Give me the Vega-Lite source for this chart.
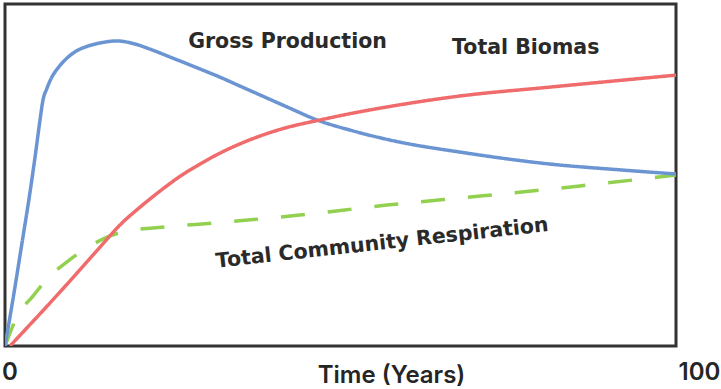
{
  "$schema": "https://vega.github.io/schema/vega-lite/v6.json",
  "width": 671,
  "height": 342,
  "autosize": "none",
  "padding": {"left": 5, "top": 4, "right": 45, "bottom": 43},
  "background": "white",
  "config": {
    "view": {"stroke": "#333333", "strokeWidth": 3},
    "font": "Inter"
  },
  "datasets": {
    "curves": [
      {"series": "Respiration", "t": 0, "v": 0},
      {"series": "Respiration", "t": 1.94, "v": 9.1},
      {"series": "Respiration", "t": 4.17, "v": 14.6},
      {"series": "Respiration", "t": 6.41, "v": 19.9},
      {"series": "Respiration", "t": 9.24, "v": 24.6},
      {"series": "Respiration", "t": 12.22, "v": 28.7},
      {"series": "Respiration", "t": 15.65, "v": 32.2},
      {"series": "Respiration", "t": 19.08, "v": 33.9},
      {"series": "Respiration", "t": 22.06, "v": 34.5},
      {"series": "Respiration", "t": 33.23, "v": 36.3},
      {"series": "Respiration", "t": 43.96, "v": 38.3},
      {"series": "Respiration", "t": 56.93, "v": 41.2},
      {"series": "Respiration", "t": 71.24, "v": 43.9},
      {"series": "Respiration", "t": 85.69, "v": 46.8},
      {"series": "Respiration", "t": 100, "v": 50.0},
      {"series": "Gross", "t": 0, "v": 0},
      {"series": "Gross", "t": 1.34, "v": 15.5},
      {"series": "Gross", "t": 2.53, "v": 30.1},
      {"series": "Gross", "t": 3.73, "v": 45.0},
      {"series": "Gross", "t": 4.62, "v": 57.3},
      {"series": "Gross", "t": 5.22, "v": 66.1},
      {"series": "Gross", "t": 5.66, "v": 71.9},
      {"series": "Gross", "t": 6.26, "v": 75.4},
      {"series": "Gross", "t": 7.0, "v": 78.7},
      {"series": "Gross", "t": 7.9, "v": 81.3},
      {"series": "Gross", "t": 9.09, "v": 83.9},
      {"series": "Gross", "t": 10.43, "v": 86.0},
      {"series": "Gross", "t": 12.37, "v": 87.7},
      {"series": "Gross", "t": 14.16, "v": 88.6},
      {"series": "Gross", "t": 16.69, "v": 89.2},
      {"series": "Gross", "t": 19.37, "v": 88.3},
      {"series": "Gross", "t": 21.61, "v": 86.8},
      {"series": "Gross", "t": 24.59, "v": 84.5},
      {"series": "Gross", "t": 29.06, "v": 81.0},
      {"series": "Gross", "t": 32.04, "v": 78.6},
      {"series": "Gross", "t": 35.02, "v": 76.0},
      {"series": "Gross", "t": 38.0, "v": 73.4},
      {"series": "Gross", "t": 42.03, "v": 69.9},
      {"series": "Gross", "t": 46.5, "v": 66.1},
      {"series": "Gross", "t": 51.86, "v": 62.9},
      {"series": "Gross", "t": 58.87, "v": 59.6},
      {"series": "Gross", "t": 67.81, "v": 56.7},
      {"series": "Gross", "t": 81.22, "v": 53.2},
      {"series": "Gross", "t": 91.65, "v": 51.5},
      {"series": "Gross", "t": 100, "v": 50.3},
      {"series": "Biomass", "t": 0.75, "v": 0},
      {"series": "Biomass", "t": 8.2, "v": 15.8},
      {"series": "Biomass", "t": 14.16, "v": 28.9},
      {"series": "Biomass", "t": 17.14, "v": 35.4},
      {"series": "Biomass", "t": 20.12, "v": 40.6},
      {"series": "Biomass", "t": 23.1, "v": 45.3},
      {"series": "Biomass", "t": 26.08, "v": 49.6},
      {"series": "Biomass", "t": 29.06, "v": 53.2},
      {"series": "Biomass", "t": 32.04, "v": 56.4},
      {"series": "Biomass", "t": 35.02, "v": 59.1},
      {"series": "Biomass", "t": 38.0, "v": 61.4},
      {"series": "Biomass", "t": 42.03, "v": 63.9},
      {"series": "Biomass", "t": 46.5, "v": 65.9},
      {"series": "Biomass", "t": 51.86, "v": 68.1},
      {"series": "Biomass", "t": 56.93, "v": 69.9},
      {"series": "Biomass", "t": 67.81, "v": 73.1},
      {"series": "Biomass", "t": 81.22, "v": 75.7},
      {"series": "Biomass", "t": 100, "v": 79.2}
    ],
    "labels": [
      {"text": "Gross Production", "t": 42.1, "v": 88.9, "angle": 0},
      {"text": "Total Biomas", "t": 77.6, "v": 87.0, "angle": 0},
      {"text": "Total Community Respiration", "t": 56.2, "v": 30.0, "angle": -6.3}
    ]
  },
  "layer": [
    {
      "data": {"name": "curves"},
      "mark": {"type": "line", "interpolate": "monotone", "strokeWidth": 3.5, "strokeCap": "butt", "clip": true},
      "encoding": {
        "x": {"field": "t", "type": "quantitative", "scale": {"domain": [0, 100], "nice": false},
          "axis": {"values": [0, 100], "grid": false, "domain": false, "ticks": false,
            "labelFont": "Inter", "labelFontSize": 24, "labelFontWeight": 600, "labelColor": "#252525",
            "labelBaseline": "alphabetic", "labelPadding": 33,
            "labelAlign": {"condition": {"test": "datum.value == 100", "value": "left"}, "value": "center"},
            "labelOffset": {"condition": {"test": "datum.value == 0", "value": 4.5}, "value": 2},
            "labelFlush": false,
            "title": "Time (Years)", "titleFont": "Inter", "titleFontSize": 24, "titleFontWeight": 600, "titleColor": "#252525",
            "titleX": 386, "titleY": 36.5, "titleAlign": "center", "titleBaseline": "alphabetic"}},
        "y": {"field": "v", "type": "quantitative", "scale": {"domain": [0, 100], "nice": false}, "axis": null},
        "color": {"field": "series", "type": "nominal", "legend": null,
          "scale": {"domain": ["Respiration", "Gross", "Biomass"], "range": ["#92d050", "#6a95d2", "#f06b6c"]}},
        "strokeDash": {"field": "series", "type": "nominal", "legend": null,
          "scale": {"domain": ["Respiration", "Gross", "Biomass"], "range": [[24, 23], [1, 0], [1, 0]]}},
        "order": {"field": "t", "type": "quantitative"}
      }
    },
    {
      "data": {"name": "labels"},
      "mark": {"type": "text", "font": "DejaVu Sans", "fontSize": 20.5, "fontWeight": "bold", "color": "#2a2a2a", "align": "center", "baseline": "middle"},
      "encoding": {
        "x": {"field": "t", "type": "quantitative"},
        "y": {"field": "v", "type": "quantitative"},
        "text": {"field": "text"},
        "angle": {"field": "angle", "type": "quantitative", "scale": null}
      }
    }
  ]
}
